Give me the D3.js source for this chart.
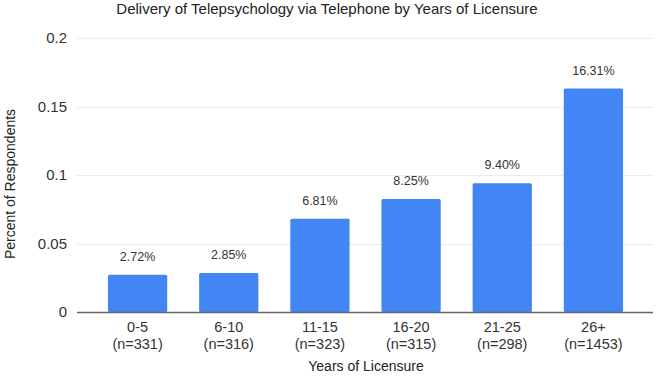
<!DOCTYPE html>
<html>
<head>
<meta charset="utf-8">
<script src="https://cdn.jsdelivr.net/npm/d3@7"></script>
<style>
  body { margin: 0; background: #fff; }
  svg { font-family: "Liberation Sans", Arial, sans-serif; }
</style>
</head>
<body>
<svg id="chart" width="657" height="377"></svg>
<script>
// data
var years = ["0-5", "6-10", "11-15", "16-20", "21-25", "26+"];
var sampleSizes = ["(n=331)", "(n=316)", "(n=323)", "(n=315)", "(n=298)", "(n=1453)"];
var percents = [0.0272, 0.0285, 0.0681, 0.0825, 0.0940, 0.1631];
var yTicks = [0, 0.05, 0.1, 0.15, 0.2];

var barData = years.map(function(y, i) {
    return {year: y, n: sampleSizes[i], Qty: percents[i]};
});

var svg = d3.select("#chart");
var padding = {top: 38, bottom: 65, left: 77, right: 4};
var chartArea = {
    width: 657 - padding.left - padding.right,
    height: 377 - padding.top - padding.bottom
};

var yScale = d3.scaleLinear()
    .domain([0, 0.2])
    .range([chartArea.height, 0]);
var xScale = d3.scaleBand()
    .domain(years)
    .range([15, chartArea.width - 14])
    .paddingInner(0.35)
    .paddingOuter(0.175);

var g = svg.append("g")
    .attr("transform", "translate(" + padding.left + "," + padding.top + ")");

// gridlines
g.selectAll("line.grid").data(yTicks).enter()
    .append("line")
    .attr("class", "grid")
    .attr("x1", 0)
    .attr("x2", chartArea.width)
    .attr("y1", function(d) { return Math.round(yScale(d)) + 0.5; })
    .attr("y2", function(d) { return Math.round(yScale(d)) + 0.5; })
    .attr("stroke", function(d) { return d === 0 ? "#fff" : "#ebebeb"; })
    .attr("stroke-width", 1);

// y tick labels
var yAxis = g.append("g").attr("class", "yAxis")
    .call(d3.axisLeft(yScale).tickValues(yTicks).tickSize(0).tickPadding(10)
        .tickFormat(function(d) { return d3.format("")(d); }));
yAxis.select(".domain").remove();
yAxis.selectAll("text")
    .attr("fill", "#333")
    .style("font-size", "15px");

// bars
g.selectAll("rect.bar").data(barData).enter()
    .append("rect")
    .attr("class", "bar")
    .attr("x", function(d) { return xScale(d.year); })
    .attr("y", function(d) { return yScale(d.Qty); })
    .attr("width", xScale.bandwidth())
    .attr("height", function(d) { return chartArea.height - yScale(d.Qty); })
    .attr("rx", 1.5)
    .attr("fill", "#4285f4");

// value labels
g.selectAll("text.val").data(barData).enter()
    .append("text")
    .attr("class", "val")
    .attr("x", function(d) { return xScale(d.year) + xScale.bandwidth() / 2; })
    .attr("y", function(d) { return yScale(d.Qty) - 14; })
    .attr("text-anchor", "middle")
    .attr("fill", "#333")
    .style("font-size", "12.5px")
    .text(function(d) { return (d.Qty * 100).toFixed(2) + "%"; });

// zero baseline
g.append("line")
    .attr("x1", 0)
    .attr("x2", chartArea.width)
    .attr("y1", chartArea.height + 0.5)
    .attr("y2", chartArea.height + 0.5)
    .attr("stroke", "#666")
    .attr("stroke-width", 1.5);

// x labels (two separate lines)
function xCenter(d) { return xScale(d.year) + xScale.bandwidth() / 2; }

g.selectAll("text.xl").data(barData).enter()
    .append("text")
    .attr("class", "xl")
    .attr("x", xCenter)
    .attr("y", chartArea.height + 20)
    .attr("text-anchor", "middle")
    .attr("fill", "#333")
    .style("font-size", "14.5px")
    .text(function(d) { return d.year; });

g.selectAll("text.xn").data(barData).enter()
    .append("text")
    .attr("class", "xn")
    .attr("x", xCenter)
    .attr("y", chartArea.height + 37)
    .attr("text-anchor", "middle")
    .attr("fill", "#333")
    .style("font-size", "14.5px")
    .text(function(d) { return d.n; });

// titles
svg.append("text")
    .attr("x", 327)
    .attr("y", 14)
    .attr("text-anchor", "middle")
    .attr("fill", "#222")
    .style("font-size", "15px")
    .text("Delivery of Telepsychology via Telephone by Years of Licensure");

svg.append("text")
    .attr("x", 366)
    .attr("y", 371)
    .attr("text-anchor", "middle")
    .attr("fill", "#222")
    .style("font-size", "14px")
    .text("Years of Licensure");

svg.append("text")
    .attr("transform", "translate(15,184) rotate(-90)")
    .attr("text-anchor", "middle")
    .attr("fill", "#222")
    .style("font-size", "14px")
    .text("Percent of Respondents");
</script>
</body>
</html>
